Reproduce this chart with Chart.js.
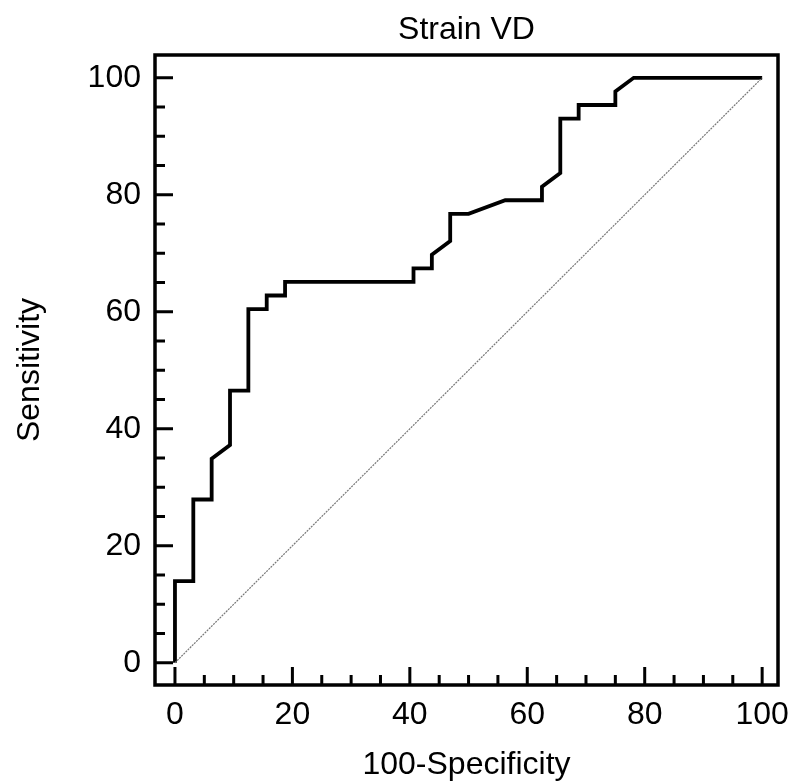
<!DOCTYPE html>
<html>
<head>
<meta charset="utf-8">
<script src="https://cdn.jsdelivr.net/npm/chart.js@4.4.1/dist/chart.umd.min.js"></script>
<style>
  html,body{margin:0;padding:0;background:#fff}
  #wrap{width:790px;height:782px}
</style>
</head>
<body>
<div id="wrap"><canvas id="roc"></canvas></div>
<script>
// ROC curve points (100-Specificity, Sensitivity)
const fpr = [0,0,3.125,3.125,6.25,6.25,9.375,9.375,12.5,12.5,15.625,15.625,18.75,18.75,40.625,40.625,43.75,43.75,46.875,46.875,50,56.25,62.5,62.5,65.625,65.625,68.75,68.75,75,75,78.125,100];
const tpr = [0,13.95,13.95,27.91,27.91,34.88,37.21,46.51,46.51,60.47,60.47,62.79,62.79,65.12,65.12,67.44,67.44,69.77,72.09,76.74,76.74,79.07,79.07,81.40,83.72,93.02,93.02,95.35,95.35,97.67,100,100];
const diagX = [0,100];
const diagY = [0,100];
const majorTicks = [0,20,40,60,80,100];
const minorStep = 5;

const FONT = 'Liberation Sans, Arial, sans-serif';

// frame + inward ticks
const frame = {
  id:'frame',
  afterDraw(chart){
    const {ctx, chartArea:a, scales:{x,y}} = chart;
    ctx.save();
    ctx.strokeStyle='#000';
    ctx.lineWidth=3;
    ctx.lineCap='butt';
    ctx.beginPath();
    for(let v=0; v<=100; v+=minorStep){
      const len = v%20===0 ? 18 : 10;
      const px = x.getPixelForValue(v);
      ctx.moveTo(px, a.bottom); ctx.lineTo(px, a.bottom-len);
      const py = y.getPixelForValue(v);
      ctx.moveTo(a.left, py); ctx.lineTo(a.left+len, py);
    }
    ctx.stroke();
    ctx.lineWidth=3.5;
    ctx.strokeRect(a.left, a.top, a.right-a.left, a.bottom-a.top);
    ctx.restore();
  }
};

new Chart(document.getElementById('roc'), {
  type:'scatter',
  data:{datasets:[
    {data: diagX.map((v,i)=>({x:v,y:diagY[i]})), showLine:true, borderColor:'#777', borderWidth:1.2, borderDash:[2,1], pointRadius:0},
    {data: fpr.map((v,i)=>({x:v,y:tpr[i]})), showLine:true, borderColor:'#000', borderWidth:3.8, pointRadius:0, tension:0, borderJoinStyle:'miter'}
  ]},
  options:{
    responsive:true, maintainAspectRatio:false, animation:false,
    layout:{padding:{left:0,right:12,top:0,bottom:0}},
    plugins:{
      legend:{display:false}, tooltip:{enabled:false},
      title:{display:true, text:'Strain VD', color:'#000', fullSize:false,
        font:{family:FONT, size:32, weight:'normal', lineHeight:1}, padding:{top:14,bottom:9}}
    },
    scales:{
      x:{type:'linear', min:-3.4, max:102.7,
        afterBuildTicks:s=>{s.ticks=majorTicks.map(v=>({value:v}))},
        afterFit:s=>{s.height=97; s.paddingLeft=0; s.paddingRight=0},
        grid:{display:false, drawTicks:false}, border:{display:false},
        ticks:{color:'#000', padding:14, font:{family:FONT,size:32,lineHeight:1}, maxRotation:0},
        title:{display:true, text:'100-Specificity', color:'#000', font:{family:FONT,size:32,lineHeight:1}, padding:{top:0,bottom:1}}
      },
      y:{type:'linear', min:-3.8, max:103.9,
        afterBuildTicks:s=>{s.ticks=majorTicks.map(v=>({value:v}))},
        afterFit:s=>{s.width=155; s.paddingTop=0; s.paddingBottom=0},
        grid:{display:false, drawTicks:false}, border:{display:false},
        ticks:{color:'#000', padding:14, font:{family:FONT,size:32,lineHeight:1}},
        title:{display:true, text:'Sensitivity', color:'#000', font:{family:FONT,size:32,lineHeight:1}, padding:{top:14,bottom:0}}
      }
    }
  },
  plugins:[frame]
});
</script>
</body>
</html>
